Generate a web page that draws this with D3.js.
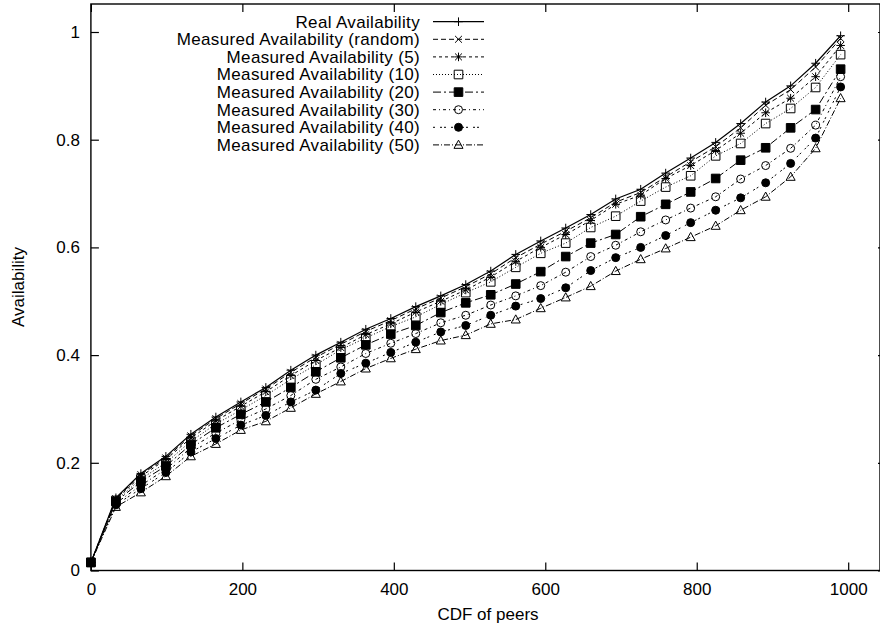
<!DOCTYPE html>
<html>
<head>
<meta charset="utf-8">
<script src="https://cdn.jsdelivr.net/npm/d3@7"></script>
<style>
  body { margin: 0; background: #fff; }
  text { font-family: "Liberation Sans", Arial, sans-serif; font-size: 17px; fill: #000; }
  .legend text { letter-spacing: 0.34px; }
</style>
</head>
<body>
<svg id="chart" width="880" height="627"></svg>
<script>
// x positions (CDF of peers)
const peers = [0, 33, 66, 99, 132, 165, 198, 231, 264, 297, 330, 363, 396, 429, 462, 495,
  528, 561, 594, 627, 660, 693, 726, 759, 792, 825, 858, 891, 924, 957, 990]

const realAvail = [0.015, 0.135, 0.180, 0.212, 0.253, 0.285, 0.313, 0.340, 0.372, 0.400, 0.424,
  0.448, 0.468, 0.490, 0.510, 0.531, 0.556, 0.587, 0.612, 0.636, 0.661, 0.690, 0.708, 0.738,
  0.766, 0.795, 0.830, 0.870, 0.900, 0.942, 0.993]
const measRandom = [0.015, 0.133, 0.178, 0.209, 0.250, 0.282, 0.310, 0.337, 0.368, 0.396, 0.420,
  0.444, 0.464, 0.486, 0.506, 0.527, 0.551, 0.581, 0.606, 0.630, 0.655, 0.684, 0.702, 0.731,
  0.759, 0.787, 0.822, 0.864, 0.893, 0.935, 0.988]
const meas5 = [0.015, 0.132, 0.175, 0.206, 0.246, 0.278, 0.305, 0.332, 0.362, 0.390, 0.414,
  0.438, 0.458, 0.480, 0.500, 0.521, 0.545, 0.574, 0.600, 0.624, 0.650, 0.680, 0.697, 0.728,
  0.752, 0.780, 0.812, 0.850, 0.877, 0.917, 0.975]
const meas10 = [0.015, 0.130, 0.170, 0.200, 0.240, 0.272, 0.298, 0.325, 0.355, 0.382, 0.410,
  0.432, 0.453, 0.471, 0.494, 0.516, 0.536, 0.563, 0.589, 0.608, 0.637, 0.658, 0.686, 0.712,
  0.733, 0.770, 0.793, 0.830, 0.858, 0.897, 0.958]
const meas20 = [0.015, 0.128, 0.165, 0.194, 0.234, 0.265, 0.290, 0.313, 0.340, 0.369, 0.395,
  0.419, 0.439, 0.455, 0.479, 0.497, 0.512, 0.532, 0.555, 0.583, 0.608, 0.624, 0.657, 0.680,
  0.703, 0.728, 0.762, 0.785, 0.822, 0.856, 0.931]
const meas30 = [0.015, 0.125, 0.158, 0.188, 0.228, 0.255, 0.280, 0.300, 0.325, 0.355, 0.378,
  0.403, 0.422, 0.440, 0.460, 0.474, 0.493, 0.510, 0.529, 0.554, 0.583, 0.604, 0.629, 0.651,
  0.673, 0.694, 0.727, 0.752, 0.784, 0.827, 0.917]
const meas40 = [0.015, 0.122, 0.152, 0.182, 0.220, 0.245, 0.270, 0.288, 0.313, 0.335, 0.366,
  0.385, 0.405, 0.424, 0.443, 0.455, 0.474, 0.491, 0.505, 0.525, 0.557, 0.581, 0.600, 0.622,
  0.646, 0.669, 0.692, 0.720, 0.756, 0.803, 0.898]
const meas50 = [0.015, 0.118, 0.145, 0.175, 0.212, 0.235, 0.261, 0.277, 0.302, 0.328, 0.351,
  0.375, 0.394, 0.411, 0.427, 0.437, 0.458, 0.466, 0.487, 0.507, 0.528, 0.556, 0.578, 0.598,
  0.619, 0.640, 0.669, 0.694, 0.731, 0.784, 0.877]

const xTicks = [0, 200, 400, 600, 800, 1000]
const yTicks = [0, 0.2, 0.4, 0.6, 0.8, 1]

const series = [
  { name: "Real Availability", values: realAvail, dash: null, mark: "plus" },
  { name: "Measured Availability (random)", values: measRandom, dash: "5,3", mark: "cross" },
  { name: "Measured Availability (5)", values: meas5, dash: "3,3", mark: "star" },
  { name: "Measured Availability (10)", values: meas10, dash: "1,2", mark: "square" },
  { name: "Measured Availability (20)", values: meas20, dash: "8,3,2,3", mark: "fsquare" },
  { name: "Measured Availability (30)", values: meas30, dash: "3,3,1,3", mark: "circle" },
  { name: "Measured Availability (40)", values: meas40, dash: "2,5,2,2", mark: "fcircle" },
  { name: "Measured Availability (50)", values: meas50, dash: "6,2,1,2", mark: "triangle" }
]

const svg = d3.select("#chart")
const plotLeft = 90.9, plotRight = 880, plotTop = 4, plotBottom = 570.5

const x = d3.scaleLinear().domain([0, 1042]).range([plotLeft, plotRight])
const y = d3.scaleLinear().domain([0, 1.052]).range([plotBottom, plotTop])

// marker shapes, gnuplot style
function markerPath(type, r) {
  const d = r * 0.8
  switch (type) {
    case "plus": return `M${-r},0H${r}M0,${-r}V${r}`
    case "cross": return `M${-d},${-d}L${d},${d}M${-d},${d}L${d},${-d}`
    case "star": return `M${-r},0H${r}M0,${-r}V${r}M${-d},${-d}L${d},${d}M${-d},${d}L${d},${-d}`
    case "square":
    case "fsquare": return `M${-r},${-r}H${r}V${r}H${-r}Z`
    case "triangle": return `M0,${-r * 1.1}L${r * 1.05},${r * 0.8}H${-r * 1.05}Z`
  }
  return null
}

function drawMarker(g, type, cx, cy) {
  const r = 4.3
  if (type === "circle" || type === "fcircle") {
    g.append("circle")
      .attr("cx", cx).attr("cy", cy).attr("r", r - 0.3)
      .attr("fill", type === "fcircle" ? "#000" : "none")
      .attr("stroke", "#000").attr("stroke-width", 1)
  } else {
    g.append("path")
      .attr("d", markerPath(type, r))
      .attr("transform", `translate(${cx},${cy})`)
      .attr("fill", type === "fsquare" ? "#000" : "none")
      .attr("stroke", "#000").attr("stroke-width", 1)
  }
}

// axes
svg.append("g")
  .attr("transform", `translate(0,${plotBottom})`)
  .call(d3.axisBottom(x).tickValues(xTicks).tickSize(-8).tickPadding(12).tickFormat(d3.format("d")))
svg.append("g")
  .attr("transform", `translate(${plotLeft},0)`)
  .call(d3.axisLeft(y).tickValues(yTicks).tickSize(-8).tickPadding(11)
    .tickFormat(d => d === 0 || d === 1 ? d : d3.format(".1f")(d)))
svg.append("g")
  .attr("transform", `translate(0,${plotTop})`)
  .call(d3.axisTop(x).tickValues(xTicks).tickSize(-8).tickFormat(""))
svg.append("g")
  .attr("transform", `translate(${plotRight},0)`)
  .call(d3.axisRight(y).tickValues(yTicks).tickSize(-2).tickFormat(""))

svg.selectAll(".domain").remove()
svg.selectAll(".tick line").attr("stroke", "#000").attr("stroke-width", 1.2)
svg.selectAll(".tick text").attr("font-size", null).attr("font-family", null)

svg.append("rect")
  .attr("x", plotLeft).attr("y", plotTop)
  .attr("width", plotRight - plotLeft).attr("height", plotBottom - plotTop)
  .attr("fill", "none").attr("stroke", "#000").attr("stroke-width", 1.4)

// axis titles
svg.append("text")
  .attr("transform", "translate(24,287) rotate(-90)")
  .attr("text-anchor", "middle")
  .text("Availability")
svg.append("text")
  .attr("x", 488).attr("y", 620)
  .attr("text-anchor", "middle")
  .text("CDF of peers")

// series
const line = d3.line()
  .x((d, i) => x(peers[i]))
  .y(d => y(d))

const plot = svg.append("g")
series.forEach(s => {
  plot.append("path")
    .datum(s.values)
    .attr("d", line)
    .attr("fill", "none")
    .attr("stroke", "#000")
    .attr("stroke-width", s.dash ? 1 : 1.2)
    .attr("stroke-dasharray", s.dash)
})
series.forEach(s => {
  const g = plot.append("g")
  s.values.forEach((v, i) => drawMarker(g, s.mark, x(peers[i]), y(v)))
})

// legend
const legend = svg.append("g").attr("class", "legend")
series.forEach((s, i) => {
  const ly = 21.7 + i * 17.6
  legend.append("text")
    .attr("x", 420).attr("y", ly).attr("dy", "0.35em")
    .attr("text-anchor", "end")
    .text(s.name)
  legend.append("line")
    .attr("x1", 433).attr("x2", 484).attr("y1", ly).attr("y2", ly)
    .attr("stroke", "#000")
    .attr("stroke-width", s.dash ? 1 : 1.2)
    .attr("stroke-dasharray", s.dash)
  drawMarker(legend, s.mark, 458.5, ly)
})
</script>
</body>
</html>
